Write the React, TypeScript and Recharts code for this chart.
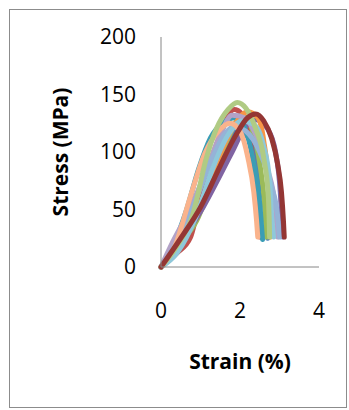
import { LineChart, Line, XAxis, YAxis, Label } from "recharts";

type Pt = [number, number];

// strain (%), stress (MPa) per specimen
const blue: Pt[] = [[0, 0], [0.4, 18], [0.8, 42], [1.2, 72], [1.6, 100], [1.95, 118], [2.2, 113], [2.45, 90], [2.6, 60], [2.68, 35], [2.7, 25]];
const red: Pt[] = [[0, 0], [0.4, 12], [0.75, 26], [0.9, 45], [1.2, 85], [1.5, 115], [1.85, 137], [2.05, 133], [2.25, 110], [2.4, 75], [2.47, 45], [2.5, 26]];
const green: Pt[] = [[0, 0], [0.4, 18], [0.9, 40], [1.3, 75], [1.7, 112], [2.05, 132], [2.3, 120], [2.5, 90], [2.62, 55], [2.67, 26]];
const purple: Pt[] = [[0, 0], [0.5, 22], [1.0, 48], [1.5, 80], [1.8, 100], [2.1, 120], [2.4, 128], [2.7, 120], [2.9, 100], [3.02, 65], [3.06, 40], [3.08, 26]];
const teal: Pt[] = [[0, 0], [0.3, 18], [0.65, 50], [0.95, 85], [1.25, 112], [1.6, 126], [1.9, 130], [2.15, 118], [2.35, 90], [2.5, 55], [2.57, 24]];
const orange: Pt[] = [[0, 0], [0.5, 22], [1.0, 55], [1.4, 90], [1.8, 120], [2.2, 135], [2.45, 130], [2.6, 110], [2.72, 70], [2.76, 26]];
const lilac: Pt[] = [[0, 0], [0.3, 22], [0.7, 48], [1.1, 80], [1.5, 115], [1.8, 132], [2.1, 130], [2.4, 115], [2.7, 85], [2.9, 50], [2.95, 26]];
const steel: Pt[] = [[0, 0], [0.5, 28], [0.9, 60], [1.3, 95], [1.6, 115], [1.85, 122], [2.15, 118], [2.5, 100], [2.8, 70], [2.95, 45], [3.0, 26]];
const sky: Pt[] = [[0, 0], [0.4, 12], [0.9, 45], [1.3, 85], [1.7, 115], [2.05, 127], [2.35, 124], [2.6, 105], [2.75, 75], [2.8, 45], [2.85, 26]];
const salmon: Pt[] = [[0, 0], [0.35, 18], [0.75, 62], [1.1, 98], [1.45, 118], [1.75, 125], [2.0, 118], [2.2, 95], [2.35, 65], [2.42, 40], [2.45, 26]];
const sage: Pt[] = [[0, 0], [0.4, 18], [0.8, 45], [1.15, 95], [1.4, 120], [1.7, 137], [1.93, 143], [2.15, 138], [2.4, 120], [2.6, 95], [2.72, 60], [2.75, 26]];
const darkRed: Pt[] = [[0, 0], [0.5, 25], [1.0, 52], [1.5, 88], [1.9, 115], [2.2, 130], [2.4, 133], [2.6, 127], [2.8, 112], [2.95, 90], [3.05, 65], [3.1, 40], [3.12, 26]];

const specimens = [blue, red, green, purple, teal, orange, lilac, steel, sky, salmon, sage, darkRed];
const colors = ["#4F81BD", "#C0504D", "#9BBB59", "#8064A2", "#3A9DB5", "#F79646", "#B3A2C7", "#95B3D7", "#8FC8DA", "#FAB38C", "#B0CB84", "#943634"];

const xTicks = [0, 2, 4];
const yTicks = [0, 50, 100, 150, 200];

const font = "'Open Sans', sans-serif";

export default function App() {
  return (
    <div
      style={{
        position: "absolute",
        left: 9,
        top: 9,
        width: 338,
        height: 399,
        border: "1px solid #8c8c8c",
        boxSizing: "border-box",
        background: "#fff",
      }}
    >
      <LineChart
        width={338}
        height={399}
        margin={{ top: 28, right: 28, left: 0, bottom: 0 }}
        style={{ position: "absolute", left: -1, top: -1 }}
      >
        <XAxis
          type="number"
          dataKey="x"
          domain={[0, 4]}
          ticks={xTicks}
          height={141}
          tickLine={false}
          tickSize={0}
          tickMargin={36}
          axisLine={{ stroke: "#868686" }}
          tick={{ fill: "#000", fontSize: 21, fontFamily: font }}
        >
          <Label
            value="Strain (%)"
            position="insideBottom"
            offset={39}
            style={{ fill: "#000", fontSize: 21, fontWeight: 700, fontFamily: font }}
          />
        </XAxis>
        <YAxis
          type="number"
          dataKey="y"
          domain={[0, 200]}
          ticks={yTicks}
          width={152}
          tickLine={false}
          tickSize={0}
          tickMargin={25}
          axisLine={{ stroke: "#868686" }}
          tick={{ fill: "#000", fontSize: 21, fontFamily: font }}
        >
          <Label
            value="Stress (MPa)"
            angle={-90}
            position="insideLeft"
            offset={52}
            style={{ fill: "#000", fontSize: 21, fontWeight: 700, fontFamily: font, textAnchor: "middle" }}
          />
        </YAxis>
        {specimens.map((pts, i) => (
          <Line
            key={i}
            data={pts.map(([x, y]) => ({ x, y }))}
            dataKey="y"
            type="monotone"
            stroke={colors[i]}
            strokeWidth={5}
            strokeLinecap="round"
            dot={false}
            activeDot={false}
            isAnimationActive={false}
          />
        ))}
      </LineChart>
    </div>
  );
}
